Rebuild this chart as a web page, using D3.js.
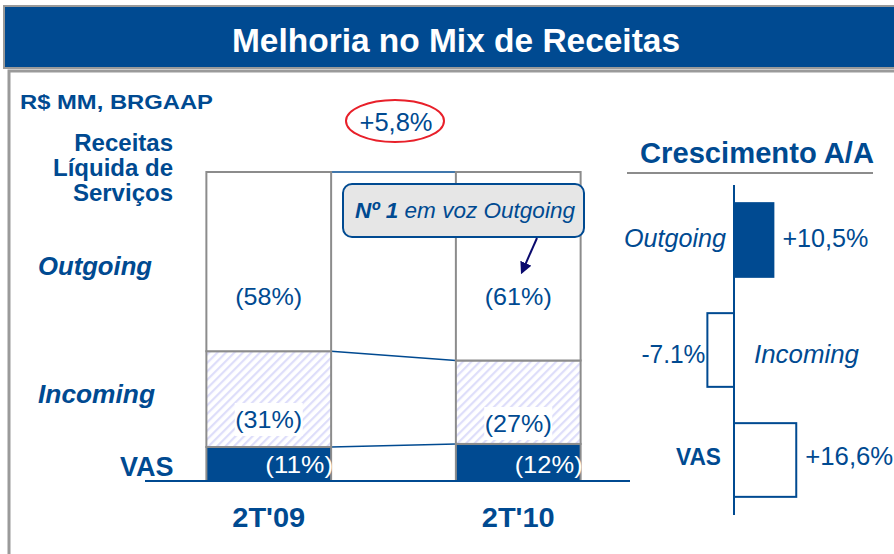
<!DOCTYPE html>
<html>
<head>
<meta charset="utf-8">
<script src="https://cdn.jsdelivr.net/npm/d3@7"></script>
<style>
  body { margin: 0; background: #fff; }
  text { font-family: "Liberation Sans", Arial, sans-serif; }
</style>
</head>
<body>
<svg id="chart" width="894" height="554"></svg>
<script>
var periods = ["2T'09", "2T'10"];
var segments = ["VAS", "Incoming", "Outgoing"];
var vas = [11, 12];
var incoming = [31, 27];
var outgoing = [58, 61];
var segLabels = {
  VAS: ["(11%)", "(12%)"],
  Incoming: ["(31%)", "(27%)"],
  Outgoing: ["(58%)", "(61%)"]
};
var totalGrowth = "+5,8%";

var growthCats = ["Outgoing", "Incoming", "VAS"];
var growthVals = [10.5, -7.1, 16.6];
var growthLabels = ["+10,5%", "-7.1%", "+16,6%"];

var blue = "#004a91";
var grey = "#8c8c8c";

var svg = d3.select("#chart");

// squeeze / stretch a label to the width seen in the original
function fit(sel, len) {
  return sel.attr("textLength", len).attr("lengthAdjust", "spacingAndGlyphs");
}

var defs = svg.append("defs");
var pat = defs.append("pattern")
  .attr("id", "hatch")
  .attr("patternUnits", "userSpaceOnUse")
  .attr("width", 6).attr("height", 6)
  .attr("patternTransform", "rotate(45)");
pat.append("rect").attr("width", 6).attr("height", 6).attr("fill", "#fff");
pat.append("rect").attr("width", 2.2).attr("height", 6).attr("fill", "#dedefa");

defs.append("marker")
  .attr("id", "arrow")
  .attr("viewBox", "0 0 10 10")
  .attr("refX", 8).attr("refY", 5)
  .attr("markerWidth", 6).attr("markerHeight", 6)
  .attr("orient", "auto")
  .append("path").attr("d", "M0,0 L10,5 L0,10 z").attr("fill", "#0a0a6e");

// title bar
svg.append("rect").attr("x", 4).attr("y", 6).attr("width", 892).attr("height", 62)
  .attr("fill", blue).attr("stroke", "#9a9a9a").attr("stroke-width", 2);
fit(svg.append("text").attr("x", 456).attr("y", 52)
  .attr("text-anchor", "middle")
  .style("font-family", "'Liberation Sans Narrow', 'Arial Narrow', sans-serif")
  .style("font-weight", "bold").style("font-size", "33px")
  .attr("fill", "#fff")
  .text("Melhoria no Mix de Receitas"), 448);

// content panel border
svg.append("path").attr("d", "M9,560 L9,71 L900,71")
  .attr("fill", "none").attr("stroke", "#9a9a9a").attr("stroke-width", 3);

fit(svg.append("text").attr("x", 20).attr("y", 109)
  .attr("fill", blue).style("font-size", "21px").style("font-weight", "bold")
  .text("R$ MM, BRGAAP"), 193);

var recLines = ["Receitas", "Líquida de", "Serviços"];
svg.append("g").selectAll("text").data(recLines).enter().append("text")
  .attr("x", 173).attr("y", function(d, i) { return 151 + i * 25; })
  .attr("text-anchor", "end")
  .attr("fill", blue).style("font-size", "24px").style("font-weight", "bold")
  .text(function(d) { return d; });

// stacked bars
var x = d3.scaleBand().domain(periods).range([144, 643]).paddingInner(0.5).paddingOuter(0.25);
var y = d3.scaleLinear().domain([0, 100]).range([481, 172]);

var rows = periods.map(function(p, i) {
  return { period: p, VAS: vas[i], Incoming: incoming[i], Outgoing: outgoing[i] };
});
var stacked = d3.stack().keys(segments)(rows);

var fills = { VAS: blue, Incoming: "url(#hatch)", Outgoing: "#fff" };

// connector lines between bars
var xa = x(periods[0]) + x.bandwidth();
var xb = x(periods[1]);
svg.append("g").selectAll("line").data(stacked).enter().append("line")
  .attr("x1", xa).attr("x2", xb)
  .attr("y1", function(s) { return y(s[0][1]); })
  .attr("y2", function(s) { return y(s[1][1]); })
  .attr("stroke", blue).attr("stroke-width", 1.5);

var layers = svg.append("g").selectAll("g").data(stacked).enter().append("g");
layers.selectAll("rect").data(function(s) { return s.map(function(d) { d.key = s.key; return d; }); })
  .enter().append("rect")
  .attr("x", function(d) { return x(d.data.period); })
  .attr("width", x.bandwidth())
  .attr("y", function(d) { return y(d[1]); })
  .attr("height", function(d) { return y(d[0]) - y(d[1]); })
  .attr("fill", function(d) { return fills[d.key]; })
  .attr("stroke", grey).attr("stroke-width", 2);

// segment labels
stacked.forEach(function(s) {
  s.forEach(function(d, i) {
    var cx = x(d.data.period) + x.bandwidth() / 2;
    var lbl = segLabels[s.key][i];
    if (s.key === "VAS") {
      fit(svg.append("text")
        .attr("x", x(d.data.period) + x.bandwidth() + 2)
        .attr("y", y(d[0]) - 8)
        .attr("text-anchor", "end")
        .attr("fill", "#fff").style("font-size", "24px")
        .text(lbl), 68);
    } else if (s.key === "Incoming") {
      var ty = i === 0 ? 428 : 432;
      svg.append("rect").attr("x", cx - 34).attr("y", ty - 25).attr("width", 68).attr("height", 33)
        .attr("fill", "#fff");
      fit(svg.append("text").attr("x", cx).attr("y", ty)
        .attr("text-anchor", "middle")
        .attr("fill", blue).style("font-size", "24px")
        .text(lbl), 67);
    } else {
      fit(svg.append("text").attr("x", cx).attr("y", 305)
        .attr("text-anchor", "middle")
        .attr("fill", blue).style("font-size", "24px")
        .text(lbl), 67);
    }
  });
});

// baseline
svg.append("line").attr("x1", 145).attr("x2", 630).attr("y1", y(0)).attr("y2", y(0))
  .attr("stroke", blue).attr("stroke-width", 2);

// period labels
svg.append("g").selectAll("text").data(periods).enter().append("text")
  .attr("x", function(d) { return x(d) + x.bandwidth() / 2; })
  .attr("y", 527)
  .attr("text-anchor", "middle")
  .attr("fill", blue).style("font-size", "27px").style("font-weight", "bold")
  .attr("textLength", 73).attr("lengthAdjust", "spacingAndGlyphs")
  .text(function(d) { return d; });

// segment names on left
var segPos = { Outgoing: 275, Incoming: 403 };
["Outgoing", "Incoming"].forEach(function(k) {
  fit(svg.append("text").attr("x", 38).attr("y", segPos[k])
    .attr("fill", blue).style("font-size", "26px").style("font-weight", "bold").style("font-style", "italic")
    .text(k), k === "Outgoing" ? 114 : 117);
});
svg.append("text").attr("x", 120).attr("y", 476)
  .attr("fill", blue).style("font-size", "27px").style("font-weight", "bold")
  .text("VAS");

// total growth ellipse
svg.append("ellipse").attr("cx", 395).attr("cy", 121).attr("rx", 49).attr("ry", 21)
  .attr("fill", "none").attr("stroke", "#e8202a").attr("stroke-width", 2);
fit(svg.append("text").attr("x", 396).attr("y", 131)
  .attr("text-anchor", "middle").attr("fill", blue).style("font-size", "25px")
  .text(totalGrowth), 73);

// callout
svg.append("rect").attr("x", 343).attr("y", 184).attr("width", 241).attr("height", 53).attr("rx", 9)
  .attr("fill", "#e6e6e6").attr("stroke", blue).attr("stroke-width", 2);
var ct = svg.append("text").attr("x", 465).attr("y", 218)
  .attr("text-anchor", "middle").attr("fill", blue)
  .style("font-size", "22px").style("font-style", "italic");
ct.append("tspan").style("font-weight", "900").text("Nº 1");
ct.append("tspan").text(" em voz Outgoing");
fit(ct, 220);
svg.append("line").attr("x1", 537).attr("y1", 238).attr("x2", 522).attr("y2", 272)
  .attr("stroke", "#0a0a6e").attr("stroke-width", 2).attr("marker-end", "url(#arrow)");

// growth panel
fit(svg.append("text").attr("x", 757).attr("y", 163)
  .attr("text-anchor", "middle").attr("fill", blue)
  .style("font-size", "29px").style("font-weight", "bold")
  .text("Crescimento A/A"), 234);
svg.append("line").attr("x1", 627).attr("x2", 873).attr("y1", 173).attr("y2", 173)
  .attr("stroke", grey).attr("stroke-width", 2);

var gx = d3.scaleLinear().domain([0, 10]).range([734, 771.5]);
var gy = d3.scaleBand().domain(growthCats).range([185, 515]).paddingInner(0.33).paddingOuter(0.165);

svg.append("g").selectAll("rect").data(growthVals).enter().append("rect")
  .attr("x", function(d) { return Math.min(gx(0), gx(d)); })
  .attr("width", function(d) { return Math.abs(gx(d) - gx(0)); })
  .attr("y", function(d, i) { return gy(growthCats[i]); })
  .attr("height", gy.bandwidth())
  .attr("fill", function(d, i) { return i === 0 ? blue : "#fff"; })
  .attr("stroke", blue).attr("stroke-width", 2);

svg.append("line").attr("x1", gx(0)).attr("x2", gx(0)).attr("y1", 185).attr("y2", 515)
  .attr("stroke", blue).attr("stroke-width", 2);

var valWidths = [86, 64, 88];
var catWidths = [102, 105, 45];
var baseShift = [7, 13, 5];
growthVals.forEach(function(v, i) {
  var cy = gy(growthCats[i]) + gy.bandwidth() / 2 + baseShift[i];
  var neg = v < 0;
  var isVas = growthCats[i] === "VAS";
  fit(svg.append("text")
    .attr("x", neg ? gx(v) - 2 : gx(v) + 9)
    .attr("y", cy)
    .attr("text-anchor", neg ? "end" : "start")
    .attr("fill", blue).style("font-size", "25px")
    .text(growthLabels[i]), valWidths[i]);
  fit(svg.append("text")
    .attr("x", neg ? gx(0) + 20 : gx(0) - (isVas ? 13 : 8))
    .attr("y", cy)
    .attr("text-anchor", neg ? "start" : "end")
    .attr("fill", blue).style("font-size", isVas ? "23px" : "25px")
    .style("font-style", isVas ? "normal" : "italic")
    .style("font-weight", isVas ? "bold" : "normal")
    .text(growthCats[i]), catWidths[i]);
});
</script>
</body>
</html>
